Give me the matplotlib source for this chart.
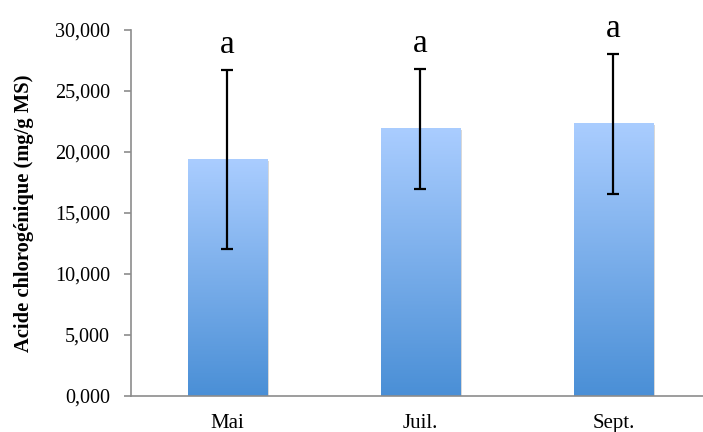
import numpy as np
import matplotlib
matplotlib.use('Agg')
import matplotlib.pyplot as plt
from matplotlib.colors import LinearSegmentedColormap
from matplotlib.ticker import FuncFormatter

plt.rcParams['font.family'] = ['Liberation Serif', 'DejaVu Serif']

mois = ['Mai', 'Juil.', 'Sept.']
valeurs = [19.4, 21.9, 22.3]
erreurs = [7.35, 4.9, 5.75]
lettres = ['a', 'a', 'a']

fig = plt.figure(figsize=(7.03, 4.32), dpi=100)
ax = fig.add_axes([131 / 703, 36 / 432, 572 / 703, 366 / 432])

x = np.arange(len(mois))
largeur = 0.41
bars = ax.bar(x, valeurs, largeur, color='none', edgecolor='none', zorder=2)

cmap = LinearSegmentedColormap.from_list('bleu', ['#4a8fd6', '#aacdff'])
grad = np.linspace(0, 1, 256).reshape(-1, 1)
for b in bars:
    x0, w, h = b.get_x(), b.get_width(), b.get_height()
    # petite ombre
    ax.add_patch(plt.Rectangle((x0 + 0.008, 0), w, h - 0.1, color='#d8d8d8',
                               zorder=1, lw=0))
    ax.imshow(grad, extent=[x0, x0 + w, 0, h], origin='lower', cmap=cmap,
              aspect='auto', zorder=2, interpolation='bicubic')

ax.errorbar(x, valeurs, yerr=erreurs, fmt='none', ecolor='black',
            elinewidth=1.6, capsize=4.5, capthick=1.6, zorder=3)

for xi, v, e, l in zip(x, valeurs, erreurs, lettres):
    ax.annotate(l, (xi, v + e), xytext=(0, 12), textcoords='offset points',
                ha='center', va='baseline', fontsize=24)

ax.set_xlim(-0.5, 2.464)
ax.set_ylim(0, 30)
ax.set_yticks(np.arange(0, 31, 5))
ax.yaxis.set_major_formatter(FuncFormatter(lambda v, p: f'{v:.3f}'.replace('.', ',')))
ax.set_xticks(x)
ax.set_xticklabels(mois)

for s in ['top', 'right']:
    ax.spines[s].set_visible(False)
for s in ['left', 'bottom']:
    ax.spines[s].set_color('#8c8c8c')
    ax.spines[s].set_linewidth(1.2)
ax.tick_params(axis='y', colors='#8c8c8c', length=5, width=1.2, labelsize=14.5,
               labelcolor='black', pad=10)
ax.tick_params(axis='x', length=0, labelsize=15, pad=13)

ax.set_ylabel('Acide chlorogénique (mg/g MS)', fontsize=14.8, fontweight='bold',
              labelpad=15)

fig.savefig('out.png', dpi=100)
